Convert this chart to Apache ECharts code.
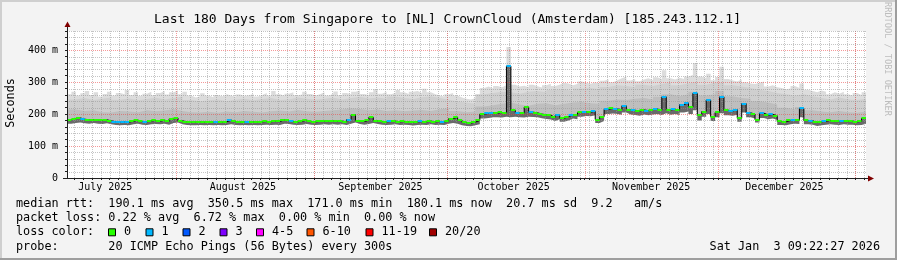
<!DOCTYPE html>
<html><head><meta charset="utf-8">
<script src="https://cdn.jsdelivr.net/npm/echarts@6/dist/echarts.min.js"></script>
<style>html,body{margin:0;padding:0;background:#f3f3f3}#c{width:897px;height:260px}</style>
</head><body><div id="c"></div>
<script>
// ---- data (x = days since Jul 7 2025 09:22, end = 180 days) ----
const medianRtt = [
182,186,188,184,182,183,181,180,182,179,176,175,176,175,178,181,177,176,179,180,178,181,177,185,188,
179,176,175,175,176,175,176,175,175,175,176,181,177,175,176,175,176,175,176,177,176,178,177,182,180,177,176,178,181,177,176,
177,178,177,179,177,178,176,183,198,179,177,180,190,179,177,176,177,178,176,177,176,174,176,177,176,178,176,177,176,178,186,190,181,174,172,175,180,
200,202,204,203,205,204,350,212,204,203,222,206,204,200,198,196,190,197,187,192,198,196,205,207,206,209,
183,192,215,218,216,214,226,214,212,210,213,211,214,216,212,254,213,215,212,230,235,222,265,197,208,244,192,205,254,212,
210,214,187,233,204,200,182,203,197,199,195,177,176,180,182,181,218,180,179,174,176,178,180,178,177,179,178,178,176,177,187];
const smokeLow = [
170,172,174,171,170,172,170,169,171,168,166,165,166,165,168,170,167,166,168,169,168,170,167,172,174,
168,166,165,165,166,165,166,165,166,165,166,168,166,165,166,165,166,165,166,167,166,167,166,170,169,167,166,167,169,167,166,
167,168,167,168,167,168,166,170,174,169,167,169,172,169,167,166,167,168,166,167,166,164,166,167,166,168,166,167,166,170,172,170,165,163,162,165,168,
186,188,190,190,189,192,190,192,190,189,192,191,190,187,185,183,178,184,176,180,186,184,192,194,193,196,
172,178,200,202,200,198,205,199,197,195,199,196,199,200,197,203,198,200,197,205,208,200,212,180,192,200,178,190,203,196,
195,198,176,205,190,186,174,188,184,186,182,166,165,168,170,169,190,168,167,163,165,167,168,167,166,168,167,167,165,166,170];
const smokeHigh = [
262,270,258,265,272,260,268,255,263,270,258,266,262,275,260,268,257,264,270,259,266,272,261,268,274,
262,270,258,252,256,265,258,253,260,256,262,258,254,261,257,259,263,255,260,266,258,272,262,257,264,268,259,261,270,263,258,
262,268,258,264,271,259,266,262,270,274,263,260,268,278,264,270,262,266,275,268,263,270,272,266,279,268,262,258,255,262,266,258,252,248,246,250,245,
282,286,280,288,284,290,410,292,286,289,284,292,287,283,290,295,288,292,298,296,290,294,302,298,295,300,
296,304,308,300,306,312,318,305,310,303,308,312,306,315,310,337,312,308,314,310,318,322,360,318,312,326,306,316,348,310,
305,302,308,300,296,294,298,302,286,290,284,282,278,280,288,282,296,276,272,268,274,270,262,268,264,270,262,258,266,260,268];
// two-day resolution inner smoke edges
const smokeMid2d = [
214,210,212,206,205,210,208,206,212,209,211,215,210,
206,205,207,204,208,206,210,207,205,209,211,208,213,209,207,
210,212,214,218,216,212,214,210,212,209,211,213,210,215,218,210,206,208,224,
228,232,236,230,226,232,234,228,232,236,238,234,
232,242,246,244,248,250,246,254,262,256,262,270,258,262,272,
256,250,248,240,236,230,220,214,222,212,208,206,210,206,204,208];
const smokeUpper2d = [
246,250,244,248,252,245,249,243,247,251,246,250,254,
244,240,243,246,241,245,248,243,247,250,244,246,252,248,245,
248,251,246,250,254,249,252,248,255,250,247,253,256,250,245,240,236,232,262,
266,270,268,264,270,272,268,275,278,272,280,282,
278,285,290,288,284,292,288,294,300,290,296,302,292,298,300,
290,286,282,276,272,266,262,258,262,256,250,246,252,246,244,248];
const lossOneDays = [3,10,11,12,13,17,33,36,40,50,63,72,79,84,94,95,99,101,104,110,113,116,118,121,123,125,127,130,132,134,136,138,139,141,144,147,149,150,152,153,156,158,163,165,167,170,174];

const monthLabels = ['July 2025','August 2025','September 2025','October 2025','November 2025','December 2025'];
const monthLabelDays = [8.61, 39.61, 70.61, 100.61, 131.61, 161.61];
const monthStartDays = [24.61, 55.61, 85.61, 116.61, 146.61, 177.61];
const yTickLabels = ['0','100 m','200 m','300 m','400 m'];
const lossLegend = [['0','#26ff00'],['1','#00b8ff'],['2','#0059ff'],['3','#7e00ff'],['4-5','#ff00ff'],['6-10','#ff5500'],['11-19','#ff0000'],['20/20','#a10000']];
const lossLegendX = [108, 145.5, 182.5, 219.5, 256, 306.5, 365.5, 429];

const titleText = 'Last 180 Days from Singapore to [NL] CrownCloud (Amsterdam) [185.243.112.1]';
const statLines = [
 'median rtt:  190.1 ms avg  350.5 ms max  171.0 ms min  180.1 ms now  20.7 ms sd  9.2   am/s',
 'packet loss: 0.22 % avg  6.72 % max  0.00 % min  0.00 % now',
 'loss color:',
 'probe:       20 ICMP Echo Pings (56 Bytes) every 300s'
];
const dateText = 'Sat Jan  3 09:22:27 2026';

// ---- layout ----
const DAYS = 180, YMAX = 460;
const GL = 67, GT = 31, GR = 31, GB = 82;
const W = 897, H = 260;
const x0 = GL, y0 = H - GB, x1 = W - GR;
const MONO = '"DejaVu Sans Mono", monospace';
const F = '11.8px ' + MONO;

function stepPairs(arr, span) {
  const out = arr.map((v, i) => [i * span, v]);
  out.push([DAYS, arr[arr.length - 1]]);
  return out;
}
function areaSeries(data, color) {
  return {type:'line', data, step:'end', symbol:'none', showSymbol:false, silent:true, animation:false,
    lineStyle:{width:0, color, opacity:0}, itemStyle:{color}, areaStyle:{color, opacity:1, origin:'start'}, z:1};
}
const lossSet = new Set(lossOneDays);
const segData = medianRtt.map((v, i) => [i, v, lossSet.has(i) ? 1 : 0]);

const gridItems = [];
for (let d = 1.61; d < DAYS; d += 2) gridItems.push([0, d]);
monthStartDays.forEach(d => gridItems.push([1, d]));
for (let v = 20; v <= YMAX; v += 20) gridItems.push([v % 100 ? 2 : 3, v]);
const minorCol = 'rgba(150,150,150,0.55)', majorCol = 'rgba(235,70,70,0.55)';

function txt(x, y, s, extra) {
  return Object.assign({type:'text', x, y, silent:true, z:100,
    style:{text:s, font:F, fill:'#000', align:'left', verticalAlign:'middle', textAlign:'left', textVerticalAlign:'middle'}}, extra || {});
}
const graphics = [
  {type:'rect', shape:{x:0,y:0,width:W,height:2}, style:{fill:'#cfcfcf'}, silent:true},
  {type:'rect', shape:{x:0,y:0,width:2,height:H}, style:{fill:'#cfcfcf'}, silent:true},
  {type:'rect', shape:{x:0,y:H-2,width:W,height:2}, style:{fill:'#9e9e9e'}, silent:true},
  {type:'rect', shape:{x:W-2,y:0,width:2,height:H}, style:{fill:'#9e9e9e'}, silent:true},
  {type:'text', x:447.5, y:19.5, silent:true, style:{text:titleText, font:'13px ' + MONO, fill:'#000', align:'center', verticalAlign:'middle', textAlign:'center', textVerticalAlign:'middle'}},
  {type:'text', x:11, y:103, rotation:Math.PI/2, silent:true, style:{text:'Seconds', font:F, fill:'#000', align:'center', verticalAlign:'middle', textAlign:'center', textVerticalAlign:'middle'}},
  {type:'text', x:887, y:59, rotation:-Math.PI/2, silent:true, style:{text:'RRDTOOL / TOBI OETIKER', font:'8.6px ' + MONO, fill:'#bdbdbd', align:'center', verticalAlign:'middle', textAlign:'center', textVerticalAlign:'middle'}},
  // axis extensions + arrows
  {type:'line', shape:{x1:x0+0.5, y1:y0+1, x2:x0+0.5, y2:GT-5}, style:{stroke:'#1f1f1f', lineWidth:1}, silent:true, z:50},
  {type:'polygon', shape:{points:[[x0-2.5,GT-4],[x0+3.5,GT-4],[x0+0.5,GT-9.5]]}, style:{fill:'#800000'}, silent:true, z:51},
  {type:'line', shape:{x1:x0-4, y1:y0+0.5, x2:x1+2, y2:y0+0.5}, style:{stroke:'#1f1f1f', lineWidth:1}, silent:true, z:50},
  {type:'polygon', shape:{points:[[x1+2,y0-2.5],[x1+2,y0+3.5],[x1+8,y0+0.5]]}, style:{fill:'#800000'}, silent:true, z:51}
];
const rowY = [204.3, 218.3, 232.3, 246.7];
statLines.forEach((s, i) => graphics.push(txt(16, rowY[i], s)));
lossLegend.forEach((e, i) => {
  graphics.push({type:'rect', shape:{x:lossLegendX[i]+0.5, y:rowY[2]-3.5, width:7, height:7}, style:{fill:e[1], stroke:'#000', lineWidth:1}, silent:true, z:100});
  graphics.push(txt(lossLegendX[i] + 16, rowY[2], e[0]));
});
graphics.push({type:'text', x:880, y:rowY[3], silent:true, style:{text:dateText, font:F, fill:'#000', align:'right', verticalAlign:'middle', textAlign:'right', textVerticalAlign:'middle'}});

const chart = echarts.init(document.getElementById('c'), null, {renderer:'canvas', width:W, height:H});
chart.setOption({
  animation:false,
  color:['#26ff00'],
  backgroundColor:'#f3f3f3',
  grid:{left:GL, top:GT, right:GR, bottom:GB, show:true, backgroundColor:'#ffffff', borderWidth:0},
  xAxis:{type:'value', min:0, max:DAYS, z:10,
    axisLine:{show:false},
    axisTick:{show:true, customValues: gridItems.filter(g => g[0] < 2).map(g => g[1]), length:2, lineStyle:{color:'#1f1f1f'}},
    axisLabel:{show:true, customValues: monthLabelDays, margin:4,
      formatter: v => { let k = 0; monthLabelDays.forEach((d, i) => { if (Math.abs(d - v) < Math.abs(monthLabelDays[k] - v)) k = i; }); return monthLabels[k]; },
      fontFamily:MONO, fontSize:10, color:'#000'},
    splitLine:{show:false}},
  yAxis:{type:'value', min:0, max:YMAX, interval:20, z:10,
    axisLine:{show:false},
    axisTick:{show:true, length:2, lineStyle:{color:'#1f1f1f'}},
    axisLabel:{margin:9, fontFamily:MONO, fontSize:10, color:'#000',
      formatter: v => (v % 100 === 0 && v / 100 < yTickLabels.length) ? yTickLabels[v / 100] : ''},
    splitLine:{show:false}},
  series:[
    areaSeries(stepPairs(smokeHigh, 1), '#dcdcdc'),
    areaSeries(stepPairs(smokeUpper2d, 2), '#cfcfcf'),
    areaSeries(stepPairs(smokeMid2d, 2), '#bebebe'),
    areaSeries(stepPairs(medianRtt, 1), '#6a6a6a'),
    areaSeries(stepPairs(smokeLow, 1), '#ffffff'),
    {type:'custom', data:gridItems, z:2, silent:true, animation:false, clip:false,
      renderItem:(params, api) => {
        const k = api.value(0), v = api.value(1), cs = params.coordSys;
        const col = (k === 1 || k === 3) ? majorCol : minorCol;
        if (k < 2) {
          const px = Math.round(api.coord([v, 0])[0]) + 0.5;
          return {type:'line', shape:{x1:px, y1:cs.y, x2:px, y2:cs.y + cs.height}, style:{stroke:col, fill:'none', lineWidth:1, lineDash:[1,1]}};
        }
        const py = Math.round(api.coord([0, v])[1]) + 0.5;
        return {type:'line', shape:{x1:cs.x, y1:py, x2:cs.x + cs.width, y2:py}, style:{stroke:col, fill:'none', lineWidth:1, lineDash:[1,1]}};
      }},
    {type:'line', data:stepPairs(medianRtt, 1), step:'end', symbol:'none', showSymbol:false, silent:true, animation:false,
      lineStyle:{color:'#000', width:1}, itemStyle:{color:'#000'}, z:3},
    {type:'custom', data:segData, z:4, silent:true, animation:false, encode:{x:0, y:1}, itemStyle:{color:'#26ff00'},
      renderItem:(params, api) => {
        const d = api.value(0), m = api.value(1), l = api.value(2);
        const p0 = api.coord([d, m]), p1 = api.coord([d + 1, m]);
        return {type:'rect', shape:{x:p0[0], y:Math.round(p0[1]) - 1, width:p1[0] - p0[0], height:2},
          style:{fill: lossLegend[l][1], stroke:'none', lineWidth:0}};
      }}
  ],
  graphic: graphics
});
</script></body></html>
